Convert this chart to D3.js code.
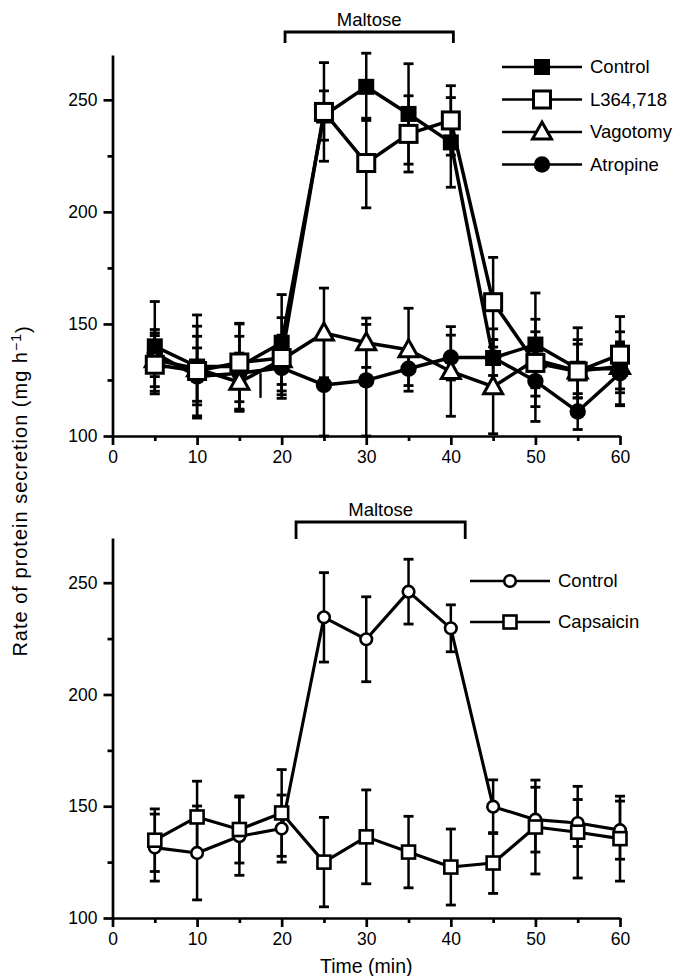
<!DOCTYPE html>
<html><head><meta charset="utf-8">
<script src="https://cdn.jsdelivr.net/npm/d3@7"></script>
<style>
body{margin:0;background:#fff}
svg{display:block;font-family:"Liberation Sans",Arial,Helvetica,sans-serif}
</style></head><body><svg id="c" width="683" height="976"></svg>
<script>
// ---- data ----
const times = [5,10,15,20,25,30,35,40,45,50,55,60];
// top panel
const control      = [140,131,131,141.6,243,255.8,243.7,231,134.8,140.8,130,130];
const controlErr   = [20,23,19,21.5,11,15,22.4,20,13,23,13,16.5];
const l364         = [131.8,129,132.8,134.8,244.6,221.8,234.8,240.8,159.7,132.6,128.8,136.3];
const l364Err      = [13,20,17.5,18,22,20,17,15.5,20,19.5,19.5,17];
const vagotomy     = [134,130,124,134,146,141.6,138.5,128.8,122,134,129,131];
const vagotomyErr  = [12,14.5,13,11,20,11,18.5,20,21,12.5,12,10];
const atropine     = [137,126.6,128,130.4,122.8,124.8,130,135,135,124.5,110.9,128];
const atropineErr  = [10.5,12.7,16.5,12,23,25,7.5,10,8,18,8,14];
const strayBar     = [17.5,117,128];
// bottom panel
const control2     = [131.5,129.1,136.6,140,234.5,224.7,246,229.6,149.8,144,142.5,139.3];
const control2Err  = [15,21,17.5,15,20,19,14.5,10.5,12,14.5,10.5,13];
const capsaicin    = [134.8,145.2,139.6,147,125,136.3,129.5,122.8,124.6,140.7,138.4,135.5];
const capsaicinErr = [14,16,15,19.4,20,21,16,17,13.6,21,20.5,19];
// axes / labels
const xTicks = [0,10,20,30,40,50,60];
const xMinor = [5,15,25,35,45,55];
const yTicks = [100,150,200,250];
const yMinor = [125,175,225];
const topLegend = ["Control","L364,718","Vagotomy","Atropine"];
const botLegend = ["Control","Capsaicin"];
const maltoseTop = [20.4,40.3];
const maltoseBot = [21.7,41.7];

// ---- drawing ----
const svg = d3.select("#c");
const x = d3.scaleLinear().domain([0,60]).range([112.5,620]);
const yTop = d3.scaleLinear().domain([100,270]).range([436,55]);
const yBot = d3.scaleLinear().domain([100,270]).range([918,538]);

function axes(yS){
  const y0 = yS(100);
  const gx = svg.append("g").attr("transform",`translate(0,${y0})`)
    .call(d3.axisBottom(x).tickValues(xTicks).tickSize(9).tickSizeOuter(0).tickPadding(6).tickFormat(d3.format("d")));
  const gxm = svg.append("g").attr("transform",`translate(0,${y0})`)
    .call(d3.axisBottom(x).tickValues(xMinor).tickSize(5).tickSizeOuter(0).tickFormat(""));
  gxm.select(".domain").remove();
  const gy = svg.append("g").attr("transform",`translate(${x(0)},0)`)
    .call(d3.axisLeft(yS).tickValues(yTicks).tickSize(9).tickSizeOuter(0).tickPadding(6));
  const gym = svg.append("g").attr("transform",`translate(${x(0)},0)`)
    .call(d3.axisLeft(yS).tickValues(yMinor).tickSize(5).tickSizeOuter(0).tickFormat(""));
  gym.select(".domain").remove();
  [gx,gxm,gy,gym].forEach(g=>{
    g.selectAll("path,line").attr("stroke","#000").attr("stroke-width",2.7);
    g.selectAll("text").attr("font-size",17.5).attr("fill","#000");
  });
}

function marker(g, type, cx, cy){
  if(type==="fsq") g.append("rect").attr("x",cx-8).attr("y",cy-8).attr("width",16).attr("height",16).attr("fill","#000");
  else if(type==="osq") g.append("rect").attr("x",cx-8.5).attr("y",cy-8.5).attr("width",17).attr("height",17).attr("fill","#fff").attr("stroke","#000").attr("stroke-width",3);
  else if(type==="tri") g.append("path").attr("d",`M${cx},${cy-10}L${cx+9.5},${cy+7}L${cx-9.5},${cy+7}Z`).attr("fill","#fff").attr("stroke","#000").attr("stroke-width",3).attr("stroke-linejoin","miter");
  else if(type==="fci") g.append("circle").attr("cx",cx).attr("cy",cy).attr("r",8.2).attr("fill","#000");
  else if(type==="oci") g.append("circle").attr("cx",cx).attr("cy",cy).attr("r",5.8).attr("fill","#fff").attr("stroke","#000").attr("stroke-width",2.6);
  else if(type==="osq2") g.append("rect").attr("x",cx-6.5).attr("y",cy-6.5).attr("width",13).attr("height",13).attr("fill","#fff").attr("stroke","#000").attr("stroke-width",2.6);
}

function panel(yS, series, lw){
  const gE = svg.append("g"), gL = svg.append("g"), gM = svg.append("g");
  series.forEach(s=>{
    s.vals.forEach((v,i)=>{
      const cx = x(times[i]);
      const lo = Math.max(100, v - s.errs[i]), hi = v + s.errs[i];
      gE.append("line").attr("x1",cx).attr("x2",cx).attr("y1",yS(lo)).attr("y2",yS(hi)).attr("stroke","#000").attr("stroke-width",2.5);
      [lo,hi].forEach(e=>gE.append("line").attr("x1",cx-5).attr("x2",cx+5).attr("y1",yS(e)).attr("y2",yS(e)).attr("stroke","#000").attr("stroke-width",2.8));
    });
    gL.append("path").datum(s.vals)
      .attr("d", d3.line().x((d,i)=>x(times[i])).y(d=>yS(d)))
      .attr("fill","none").attr("stroke","#000").attr("stroke-width",lw).attr("stroke-linejoin","round");
  });
  series.forEach(s=>s.vals.forEach((v,i)=>marker(gM, s.m, x(times[i]), yS(v))));
}

function bracket(range, yb, drop, ty){
  const p = d3.path();
  p.moveTo(x(range[0]), yb+drop); p.lineTo(x(range[0]), yb); p.lineTo(x(range[1]), yb); p.lineTo(x(range[1]), yb+drop);
  svg.append("path").attr("d",p.toString()).attr("fill","none").attr("stroke","#000").attr("stroke-width",2.8);
  svg.append("text").attr("x",(x(range[0])+x(range[1]))/2).attr("y",ty).attr("text-anchor","middle")
    .attr("font-size",18.5).text("Maltose");
}

function legend(entries, types, lx, ly, dy){
  entries.forEach((name,i)=>{
    const yy = ly + i*dy;
    svg.append("line").attr("x1",lx).attr("x2",lx+80).attr("y1",yy).attr("y2",yy).attr("stroke","#000").attr("stroke-width",2.7);
    marker(svg, types[i], lx+40, yy);
    svg.append("text").attr("x",lx+88).attr("y",yy).attr("dy","0.35em").attr("font-size",18.5).text(name);
  });
}

// top panel
axes(yTop);
svg.append("line").attr("x1",x(strayBar[0])).attr("x2",x(strayBar[0])).attr("y1",yTop(strayBar[1])).attr("y2",yTop(strayBar[2])).attr("stroke","#000").attr("stroke-width",2.4);
panel(yTop, [
  {vals:atropine, errs:atropineErr, m:"fci"},
  {vals:vagotomy, errs:vagotomyErr, m:"tri"},
  {vals:control, errs:controlErr, m:"fsq"},
  {vals:l364, errs:l364Err, m:"osq"}
], 3.5);
bracket(maltoseTop, 32, 11, 26);
legend(topLegend, ["fsq","osq","tri","fci"], 502, 67, 32.5);

// bottom panel
axes(yBot);
panel(yBot, [
  {vals:control2, errs:control2Err, m:"oci"},
  {vals:capsaicin, errs:capsaicinErr, m:"osq2"}
], 3.1);
bracket(maltoseBot, 522, 17, 516);
legend(botLegend, ["oci","osq2"], 470, 581, 41);

// axis titles
svg.append("text").attr("x",x(30)).attr("y",973).attr("text-anchor","middle").attr("font-size",19.5).text("Time (min)");
const yl = svg.append("text").attr("transform","translate(27,491) rotate(-90)").attr("text-anchor","middle")
  .attr("font-size",20).attr("letter-spacing",1);
yl.append("tspan").text("Rate of protein secretion (mg h");
yl.append("tspan").attr("dy","-0.45em").attr("font-size",14).text("−1");
yl.append("tspan").attr("dy","0.45em").text(")");
</script></body></html>
